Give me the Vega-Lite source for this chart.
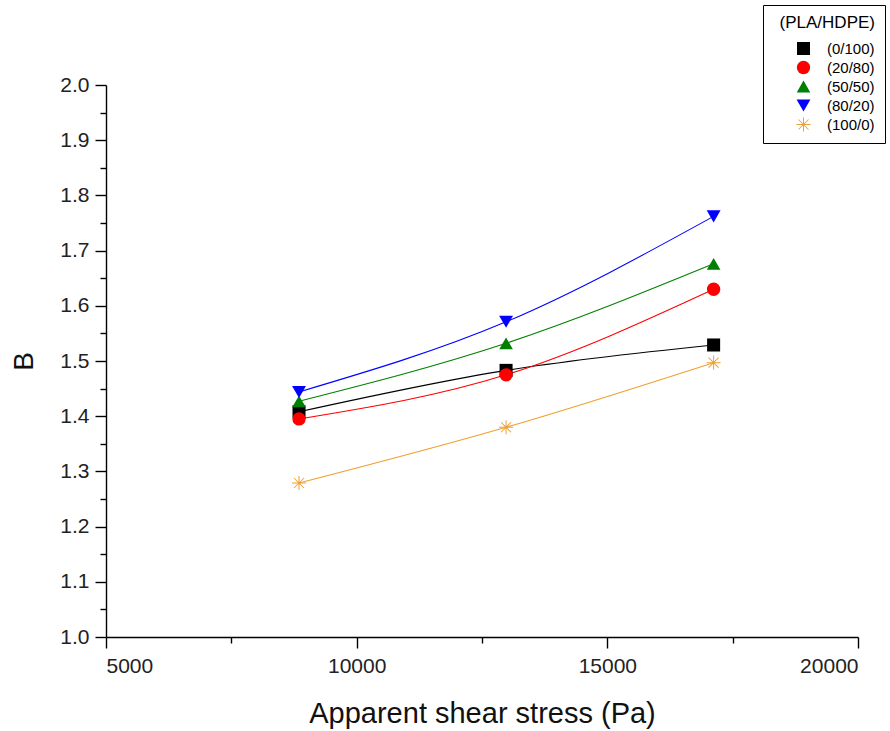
{
  "$schema": "https://vega.github.io/schema/vega-lite/v6.json",
  "width": 752,
  "height": 552,
  "autosize": {"type": "none"},
  "padding": {"left": 106, "top": 85, "right": 32, "bottom": 94},
  "background": "white",
  "config": {
    "view": {"stroke": null},
    "font": "Liberation Sans",
    "axis": {
      "grid": false,
      "domainColor": "black",
      "domainWidth": 1.4,
      "tickColor": "black",
      "tickWidth": 1.4,
      "labelFont": "Liberation Sans",
      "labelFontSize": 21,
      "labelColor": "#222",
      "titleFont": "Liberation Sans",
      "titleFontWeight": "normal",
      "titleColor": "#111",
      "titleFontSize": 28
    },
    "legend": {
      "orient": "none", "legendX": 657, "legendY": -80,
      "padding": 10, "strokeColor": "black", "fillColor": "white",
      "titleFont": "Liberation Sans", "titleFontSize": 17, "titleFontWeight": "normal", "titleColor": "black", "titleAnchor": "end", "titlePadding": 9,
      "labelFont": "Liberation Sans", "labelFontSize": 15, "labelColor": "black", "symbolSize": 110, "symbolOffset": 23, "labelOffset": 16, "rowPadding": 3, "symbolStrokeWidth": 0
    }
  },
  "data": {
    "values": [
      {"series": "(0/100)", "stress": 8850, "B": 1.408},
      {"series": "(0/100)", "stress": 12980, "B": 1.483},
      {"series": "(0/100)", "stress": 17120, "B": 1.529},
      {"series": "(20/80)", "stress": 8850, "B": 1.395},
      {"series": "(20/80)", "stress": 12980, "B": 1.475},
      {"series": "(20/80)", "stress": 17120, "B": 1.630},
      {"series": "(50/50)", "stress": 8850, "B": 1.427},
      {"series": "(50/50)", "stress": 12980, "B": 1.532},
      {"series": "(50/50)", "stress": 17120, "B": 1.676},
      {"series": "(80/20)", "stress": 8850, "B": 1.444},
      {"series": "(80/20)", "stress": 12980, "B": 1.571},
      {"series": "(80/20)", "stress": 17120, "B": 1.762},
      {"series": "(100/0)", "stress": 8850, "B": 1.279},
      {"series": "(100/0)", "stress": 12980, "B": 1.380},
      {"series": "(100/0)", "stress": 17120, "B": 1.497}
    ]
  },
  "layer": [
    {
      "mark": {"type": "line", "interpolate": "monotone", "strokeWidth": 1.1},
      "encoding": {
        "x": {
          "field": "stress", "type": "quantitative",
          "scale": {"domain": [5000, 20000]},
          "axis": {"title": "Apparent shear stress (Pa)", "values": [5000, 10000, 15000, 20000], "format": "d", "tickSize": 11, "labelPadding": 7, "titlePadding": 23, "labelFontSize": 21, "titleFontSize": 29}
        },
        "y": {
          "field": "B", "type": "quantitative",
          "scale": {"domain": [1, 2], "zero": false},
          "axis": {"title": "B", "values": [1.0, 1.1, 1.2, 1.3, 1.4, 1.5, 1.6, 1.7, 1.8, 1.9, 2.0], "format": ".1f", "tickSize": 11, "labelPadding": 6, "titlePadding": 21, "labelFontSize": 21, "titleFontSize": 28}
        },
        "color": {
          "field": "series", "type": "nominal",
          "scale": {"domain": ["(0/100)", "(20/80)", "(50/50)", "(80/20)", "(100/0)"], "range": ["#000000", "#FF0000", "#008000", "#0000FF", "#F0A030"]},
          "legend": {"title": "(PLA/HDPE)"}
        }
      }
    },
    {
      "mark": {"type": "point", "filled": true, "opacity": 1},
      "encoding": {
        "x": {
          "field": "stress", "type": "quantitative",
          "scale": {"domain": [5000, 20000]},
          "axis": {"orient": "bottom", "title": null, "labels": false, "domain": false, "values": [7500, 12500, 17500], "tickSize": 6}
        },
        "y": {
          "field": "B", "type": "quantitative",
          "scale": {"domain": [1, 2], "zero": false},
          "axis": {"orient": "left", "title": null, "labels": false, "domain": false, "values": [1.05, 1.15, 1.25, 1.35, 1.45, 1.55, 1.65, 1.75, 1.85, 1.95], "tickSize": 6}
        },
        "color": {
          "field": "series", "type": "nominal",
          "scale": {"domain": ["(0/100)", "(20/80)", "(50/50)", "(80/20)", "(100/0)"], "range": ["#000000", "#FF0000", "#008000", "#0000FF", "#F0A030"]},
          "legend": {"title": "(PLA/HDPE)"}
        },
        "shape": {
          "field": "series", "type": "nominal",
          "scale": {"domain": ["(0/100)", "(20/80)", "(50/50)", "(80/20)", "(100/0)"], "range": ["square", "circle", "triangle-up", "triangle-down", "M-0.07,-1L0.07,-1L0.07,1L-0.07,1ZM-1,-0.07L1,-0.07L1,0.07L-1,0.07ZM0.658,-0.757L0.757,-0.658L-0.658,0.757L-0.757,0.658ZM-0.757,-0.658L-0.658,-0.757L0.757,0.658L0.658,0.757Z"]},
          "legend": {"title": "(PLA/HDPE)"}
        },
        "size": {
          "field": "series", "type": "nominal",
          "scale": {"domain": ["(0/100)", "(20/80)", "(50/50)", "(80/20)", "(100/0)"], "range": [170, 200, 210, 210, 380]},
          "legend": null
        }
      }
    }
  ],
  "resolve": {"axis": {"x": "independent", "y": "independent"}}
}
